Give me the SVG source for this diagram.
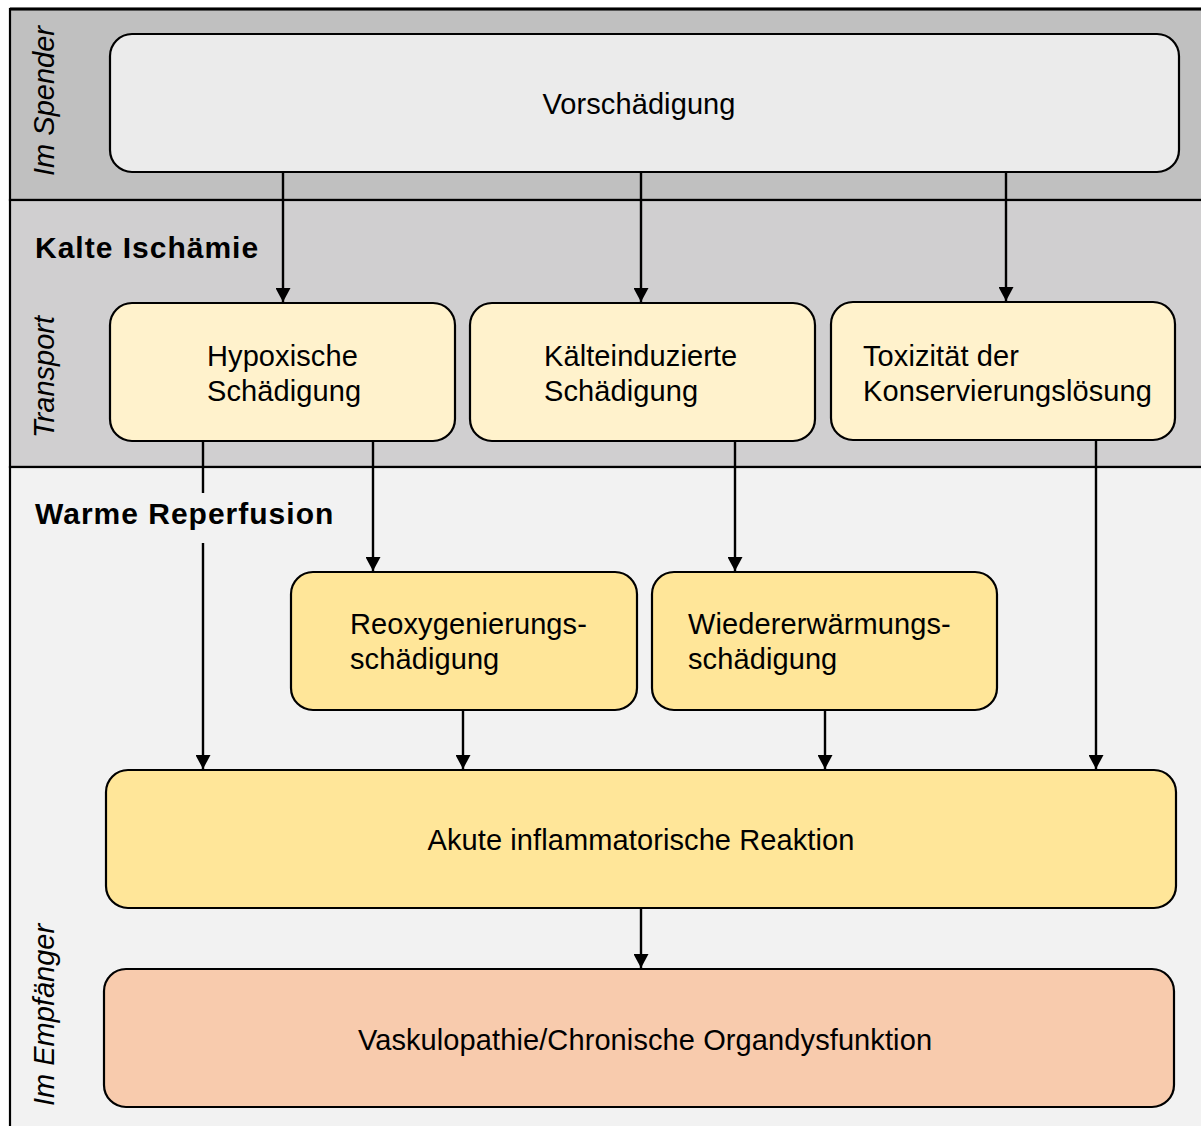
<svg xmlns="http://www.w3.org/2000/svg" width="1201" height="1126" viewBox="0 0 1201 1126">
<defs>
<style>
.box{stroke:#000;stroke-width:2.2}
.t{font-family:"Liberation Sans",Arial,sans-serif;font-size:29px;fill:#000;letter-spacing:0.1px}
.h{font-family:"Liberation Sans",Arial,sans-serif;font-size:30px;font-weight:bold;fill:#000;letter-spacing:1px}
.lane{font-family:"Liberation Sans",Arial,sans-serif;font-size:29px;font-style:italic;fill:#000}
.c{stroke:#000;stroke-width:2.4;fill:none;marker-end:url(#arr)}
.band{stroke:#000;stroke-width:2.2}
</style>
<marker id="arr" viewBox="0 0 14 15" refX="14" refY="7.5" markerUnits="userSpaceOnUse" markerWidth="14" markerHeight="15" orient="auto">
<path d="M0,0 L14,7.5 L0,15 Z" fill="#000"/>
</marker>
</defs>
<rect x="0" y="0" width="1201" height="1126" fill="#fff"/>
<g id="bands">
<rect x="10" y="9" width="1195" height="191" fill="#c0c0c0" class="band"/>
<rect x="10" y="200" width="1195" height="267" fill="#d0cfd0" class="band"/>
<rect x="10" y="467" width="1195" height="665" fill="#f2f2f2" class="band"/>
<line x1="10" y1="9" x2="1201" y2="9" stroke="#000" stroke-width="3"/>
<text class="lane" transform="translate(54,101) rotate(-90)" text-anchor="middle">Im Spender</text>
<text class="lane" transform="translate(54,377) rotate(-90)" text-anchor="middle">Transport</text>
<text class="lane" transform="translate(54,1015) rotate(-90)" text-anchor="middle">Im Empfänger</text>
<text class="h" x="35" y="258">Kalte Ischämie</text>
<text class="h" x="35" y="524">Warme Reperfusion</text>
</g>
<g id="connectors">
<path class="c" d="M283,172 V302"/>
<path class="c" d="M641,172 V302"/>
<path class="c" d="M1006,172 V301"/>
<path class="c" d="M203,441 V493 M203,543 V769"/>
<path class="c" d="M373,441 V571"/>
<path class="c" d="M735,441 V571"/>
<path class="c" d="M1096,440 V769"/>
<path class="c" d="M463,710 V769"/>
<path class="c" d="M825,710 V769"/>
<path class="c" d="M641,908 V968"/>
</g>
<g id="vorschaedigung">
<rect class="box" x="110" y="34" width="1069" height="138" rx="22" fill="#ebebeb"/>
<text class="t" x="639" y="114" text-anchor="middle">Vorschädigung</text>
</g>
<g id="hypoxische">
<rect class="box" x="110" y="303" width="345" height="138" rx="22" fill="#fff2cc"/>
<text class="t" x="207" y="366">Hypoxische</text>
<text class="t" x="207" y="401">Schädigung</text>
</g>
<g id="kaelteinduzierte">
<rect class="box" x="470" y="303" width="345" height="138" rx="22" fill="#fff2cc"/>
<text class="t" x="544" y="366">Kälteinduzierte</text>
<text class="t" x="544" y="401">Schädigung</text>
</g>
<g id="toxizitaet">
<rect class="box" x="831" y="302" width="344" height="138" rx="22" fill="#fff2cc"/>
<text class="t" x="863" y="366">Toxizität der</text>
<text class="t" x="863" y="401">Konservierungslösung</text>
</g>
<g id="reoxygenierung">
<rect class="box" x="291" y="572" width="346" height="138" rx="22" fill="#ffe699"/>
<text class="t" x="350" y="634">Reoxygenierungs-</text>
<text class="t" x="350" y="669">schädigung</text>
</g>
<g id="wiedererwaermung">
<rect class="box" x="652" y="572" width="345" height="138" rx="22" fill="#ffe699"/>
<text class="t" x="688" y="634">Wiedererwärmungs-</text>
<text class="t" x="688" y="669">schädigung</text>
</g>
<g id="akute">
<rect class="box" x="106" y="770" width="1070" height="138" rx="22" fill="#ffe699"/>
<text class="t" x="641" y="850" text-anchor="middle">Akute inflammatorische Reaktion</text>
</g>
<g id="vaskulopathie">
<rect class="box" x="104" y="969" width="1070" height="138" rx="22" fill="#f8cbad"/>
<text class="t" x="645" y="1050" text-anchor="middle">Vaskulopathie/Chronische Organdysfunktion</text>
</g>
</svg>
